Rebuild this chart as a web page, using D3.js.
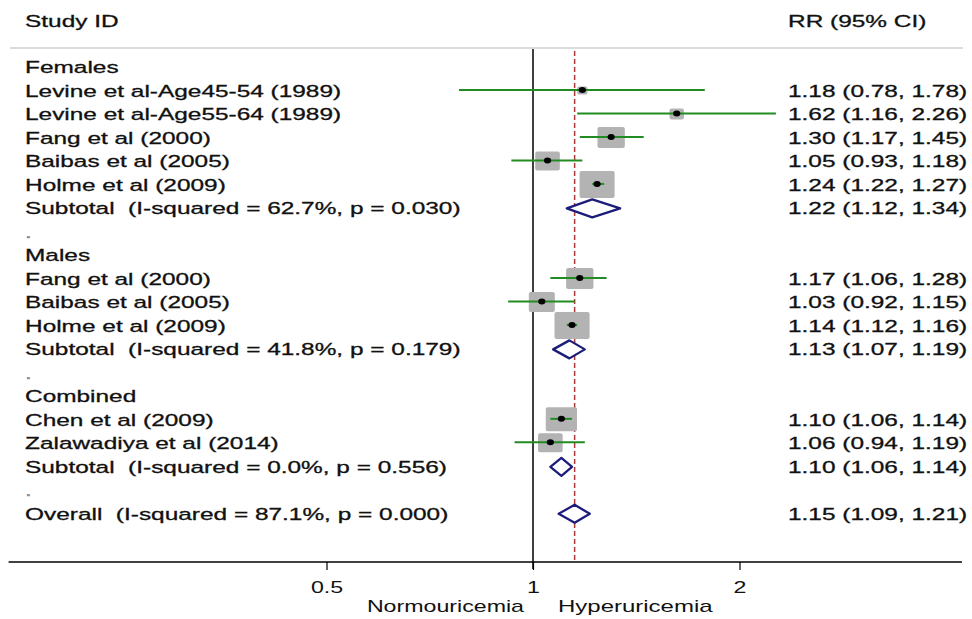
<!DOCTYPE html>
<html><head><meta charset="utf-8">
<script src="https://cdn.jsdelivr.net/npm/d3@7"></script>
<style>
html,body{margin:0;padding:0;background:#fff;}
text{font-family:"Liberation Sans",Arial,sans-serif;white-space:pre;}
</style></head>
<body><svg id="chart" width="972" height="619"></svg>
<script>
// ---- data ----
const labels = [
  "Females",
  "Levine et al-Age45-54 (1989)",
  "Levine et al-Age55-64 (1989)",
  "Fang et al (2000)",
  "Baibas et al (2005)",
  "Holme et al (2009)",
  "Subtotal  (I-squared = 62.7%, p = 0.030)",
  ".",
  "Males",
  "Fang et al (2000)",
  "Baibas et al (2005)",
  "Holme et al (2009)",
  "Subtotal  (I-squared = 41.8%, p = 0.179)",
  ".",
  "Combined",
  "Chen et al (2009)",
  "Zalawadiya et al (2014)",
  "Subtotal  (I-squared = 0.0%, p = 0.556)",
  ".",
  "Overall  (I-squared = 87.1%, p = 0.000)"
];
const kinds = ["head","study","study","study","study","study","pooled","blank",
               "head","study","study","study","pooled","blank",
               "head","study","study","pooled","blank","pooled"];
const rr    = [null,1.18,1.62,1.30,1.05,1.24,1.22,null,null,1.17,1.03,1.14,1.13,null,null,1.10,1.06,1.10,null,1.15];
const lower = [null,0.78,1.16,1.17,0.93,1.22,1.12,null,null,1.06,0.92,1.12,1.07,null,null,1.06,0.94,1.06,null,1.09];
const upper = [null,1.78,2.26,1.45,1.18,1.27,1.34,null,null,1.28,1.15,1.16,1.19,null,null,1.14,1.19,1.14,null,1.21];
const weights = [null,1.5,2.9,10.5,8.5,17.3,null,null,null,10.5,9.5,17.3,null,null,null,13.7,8.5,null,null,null];
const tickValues = [0.5, 1, 2];
const overallRR = 1.15;
const headerLeft = "Study ID";
const headerRight = "RR (95% CI)";
const favLeft = "Normouricemia";
const favRight = "Hyperuricemia";

// ---- layout ----
const svg = d3.select("#chart");
const SX = 1.48, FS = 16.5;
const x = d3.scaleLog().base(2).domain([0.5, 2]).range([326.5, 739.5]);
const y = d3.scaleLinear().domain([0, labels.length - 1]).range([67.5, 513.8]);
const axisY = 562, topY = 49;
const axisExtent = [0.172, 4.22];
const boxH = d3.scaleSqrt().domain([0, 17.3]).range([0, 27]);
const fmt = d3.format(".2f");

function txt(g, s, tx, ty, opts = {}) {
  const fill = opts.fill || "#111";
  return g.append("text")
    .attr("transform", `translate(${tx},${ty}) scale(${opts.sx || SX},1)`)
    .attr("font-size", opts.fs || FS)
    .attr("fill", fill)
    .attr("stroke", fill)
    .attr("stroke-width", opts.sw == null ? 0.3 : opts.sw)
    .attr("text-anchor", opts.anchor || "start")
    .text(s);
}

// header
txt(svg, headerLeft, 25, 27);
txt(svg, headerRight, 788, 27);
svg.append("line").attr("x1", 10).attr("x2", 963).attr("y1", 48).attr("y2", 48)
  .attr("stroke", "#cfcfcf").attr("stroke-width", 1.5);

// reference lines
svg.append("line").attr("x1", x(1)).attr("x2", x(1)).attr("y1", topY).attr("y2", axisY + 7)
  .attr("stroke", "#000").attr("stroke-width", 1.5);
svg.append("line").attr("x1", x(overallRR)).attr("x2", x(overallRR)).attr("y1", topY + 2).attr("y2", axisY)
  .attr("stroke", "#a83a3a").attr("stroke-width", 1.5).attr("stroke-dasharray", "5,3");

// rows
const rowsIdx = d3.range(labels.length);
const gRows = svg.append("g");
rowsIdx.forEach(i => {
  const yy = y(i);
  txt(gRows, labels[i], 25, yy + 5.8, { fill: kinds[i] === "blank" ? "#888" : "#111" });
  if (rr[i] != null) {
    txt(gRows, `${fmt(rr[i])} (${fmt(lower[i])}, ${fmt(upper[i])})`, 788, yy + 5.8);
  }
});

// study boxes
const studies = rowsIdx.filter(i => kinds[i] === "study");
svg.append("g").selectAll("rect").data(studies).join("rect")
  .attr("x", i => x(rr[i]) - boxH(weights[i]) * 1.3 / 2)
  .attr("y", i => y(i) - boxH(weights[i]) / 2 - 0.5)
  .attr("width", i => boxH(weights[i]) * 1.3)
  .attr("height", i => boxH(weights[i]))
  .attr("rx", 2)
  .attr("fill", "#b3b3b3");

// CI lines
svg.append("g").selectAll("line").data(studies).join("line")
  .attr("x1", i => x(lower[i])).attr("x2", i => x(upper[i]))
  .attr("y1", i => y(i) - 1).attr("y2", i => y(i) - 1)
  .attr("stroke", "#228b22").attr("stroke-width", 2);

// points
svg.append("g").selectAll("ellipse").data(studies).join("ellipse")
  .attr("cx", i => x(rr[i])).attr("cy", i => y(i) - 1)
  .attr("rx", 3.6).attr("ry", 3).attr("fill", "#000");

// diamonds
const pooled = rowsIdx.filter(i => kinds[i] === "pooled");
svg.append("g").selectAll("path").data(pooled).join("path")
  .attr("d", i => {
    const yy = y(i), h = 9;
    return `M${x(lower[i])},${yy}L${x(rr[i])},${yy - h}L${x(upper[i])},${yy}L${x(rr[i])},${yy + h}Z`;
  })
  .attr("fill", "#fff").attr("stroke", "#1c1c7a").attr("stroke-width", 2.3).attr("stroke-linejoin", "round");

// axis
svg.append("line").attr("x1", x(axisExtent[0])).attr("x2", x(axisExtent[1]))
  .attr("y1", axisY).attr("y2", axisY).attr("stroke", "#000").attr("stroke-width", 1.5);
const ax = svg.append("g").attr("transform", `translate(0,${axisY})`)
  .call(d3.axisBottom(x).tickValues(tickValues).tickFormat(d => String(d)).tickSize(8).tickSizeOuter(0));
ax.select(".domain").remove();
ax.selectAll(".tick line").attr("stroke", "#000").attr("stroke-width", 1.2);
ax.selectAll(".tick text")
  .attr("y", 0).attr("dy", 0)
  .attr("transform", `translate(0,31) scale(1.45,1)`)
  .attr("font-size", 16).attr("fill", "#111")
  .style("font-family", '"Liberation Sans", Arial, sans-serif');

txt(svg, favLeft, x(1) - 9, 612, { anchor: "end", fs: 16, sx: 1.45, sw: 0 });
txt(svg, favRight, x(1) + 25, 612, { anchor: "start", fs: 16, sx: 1.5, sw: 0 });
</script></body></html>
